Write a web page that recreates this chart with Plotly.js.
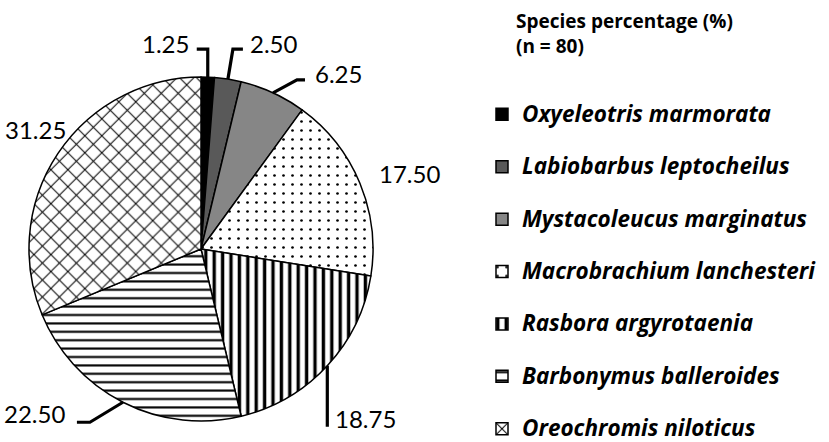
<!DOCTYPE html>
<html>
<head>
<meta charset="utf-8">
<script src="https://cdn.plot.ly/plotly-3.0.1.min.js"></script>
<style>html,body{margin:0;padding:0;background:#fff;}</style>
</head>
<body>
<div id="chart" style="width:829px;height:442px;"></div>
<script>
// ---- data ----
const species = ['Oxyeleotris marmorata', 'Labiobarbus leptocheilus', 'Mystacoleucus marginatus',
  'Macrobrachium lanchesteri', 'Rasbora argyrotaenia', 'Barbonymus balleroides', 'Oreochromis niloticus'];
const percent = [1.25, 2.50, 6.25, 17.50, 18.75, 22.50, 31.25];
const valueLabels = ['1.25', '2.50', '6.25', '17.50', '18.75', '22.50', '31.25'];
const legendTitle = 'Species percentage (%)';
const sampleNote = '(n = 80)';

// ---- styles ----
const sliceColors = ['#000000', '#595959', '#868686', '#ffffff', '#ffffff', '#ffffff', '#ffffff'];
const patternShapes = ['', '', '', '.', '|', '-', 'x'];
const patternSizes = [8, 8, 8, 9, 8.4, 8.4, 12];
const patternSolidity = [0.3, 0.3, 0.3, 0.07, 0.4, 0.25, 0.16];

// ---- geometry (pixels) ----
const W = 829, H = 442;
const CX = 201, CY = 249, R = 172;
// label layout: elbow offset from slice edge (dx, dy), horizontal run h, text gap, text dy
// null elbow = no leader line
const labelLayout = [
  {elbow: [0, -28], h: -11, gap: 6, tdy: -6},
  {elbow: [5, -30], h: 10, gap: 5, tdy: -6},
  {elbow: [24, -13], h: 8, gap: 8, tdy: -6.5},
  {elbow: null, offset: [17, -9.5], side: 'left'},
  {elbow: [0, 61], h: 0, gap: 6, tdy: -8.3},
  {elbow: [-33, 20], h: -13, gap: 10, tdy: -8.7},
  {elbow: null, offset: [10, -24], side: 'right'}
];

const px = x => x / W;
const py = y => 1 - y / H;

const total = percent.reduce((a, b) => a + b, 0);
let cum = 0;
const annotations = [];
const shapes = [];
percent.forEach((v, i) => {
  const mid = (cum + v / 2) / total * 2 * Math.PI;
  cum += v;
  const ex = CX + R * Math.sin(mid);
  const ey = CY - R * Math.cos(mid);
  const L = labelLayout[i];
  const font = {family: 'Lato, "Open Sans", sans-serif', size: 24, color: '#000'};
  if (L.elbow) {
    const bx = ex + L.elbow[0], by = ey + L.elbow[1];
    const endx = bx + L.h, endy = by;
    shapes.push({
      type: 'path', xref: 'paper', yref: 'paper',
      path: `M ${px(ex)} ${py(ey)} L ${px(bx)} ${py(by)} L ${px(endx)} ${py(endy)}`,
      line: {color: '#000', width: 3.2}
    });
    let tx, anchor;
    if (L.h < 0) { tx = endx - L.gap; anchor = 'right'; }
    else { tx = endx + L.gap; anchor = 'left'; }
    annotations.push({
      xref: 'paper', yref: 'paper', x: px(tx), y: py(endy + L.tdy),
      xanchor: anchor, yanchor: 'middle', showarrow: false,
      text: valueLabels[i], font: font
    });
  } else {
    annotations.push({
      xref: 'paper', yref: 'paper', x: px(ex + L.offset[0]), y: py(ey + L.offset[1]),
      xanchor: L.side, yanchor: 'middle', showarrow: false,
      text: valueLabels[i], font: font
    });
  }
});

annotations.push({
  xref: 'paper', yref: 'paper', x: px(514), y: py(6),
  xanchor: 'left', yanchor: 'top', align: 'left', showarrow: false,
  text: '<b>' + legendTitle + '</b><br><b>' + sampleNote + '</b>',
  font: {family: '"Open Sans", sans-serif', size: 19, color: '#000'}
});

const legendLabels = species.map((s, i) =>
  '<span style="font-size:22.5px">' + s + '</span>' + (i < species.length - 1 ? '<br>&nbsp;' : ''));

const trace = {
  type: 'pie',
  values: percent,
  labels: legendLabels,
  sort: false,
  direction: 'clockwise',
  rotation: 0,
  textinfo: 'none',
  hoverinfo: 'label+value',
  domain: {x: [px(CX - R), px(CX + R)], y: [py(CY + R), py(CY - R)]},
  marker: {
    colors: sliceColors,
    line: {color: '#000', width: 1.5},
    pattern: {shape: patternShapes, size: patternSizes, solidity: patternSolidity, fgcolor: '#000', fillmode: 'replace'}
  }
};

const layout = {
  width: W, height: H,
  margin: {l: 0, r: 0, t: 0, b: 0, autoexpand: false},
  paper_bgcolor: '#fff',
  showlegend: true,
  legend: {
    x: px(482), y: py(95.5), xanchor: 'left', yanchor: 'top',
    valign: 'top',
    font: {family: '"Open Sans", sans-serif', size: 19, color: '#000', style: 'italic', weight: 'bold'},
    bgcolor: 'rgba(0,0,0,0)'
  },
  annotations: annotations,
  shapes: shapes
};

Plotly.newPlot('chart', [trace], layout, {displayModeBar: false, staticPlot: true});
</script>
</body>
</html>
